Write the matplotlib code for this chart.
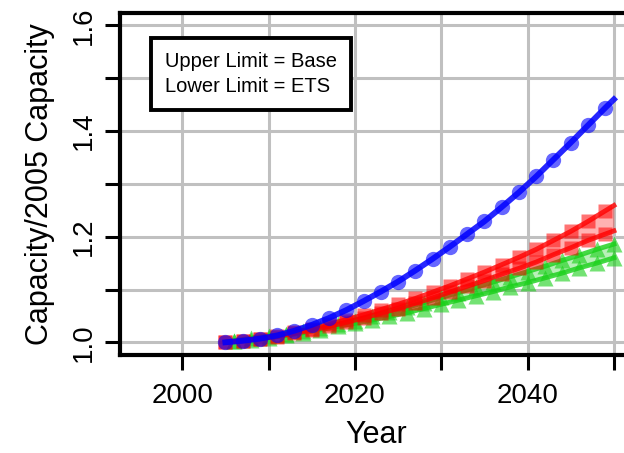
import numpy as np
import matplotlib
matplotlib.use("Agg")
import matplotlib.pyplot as plt

plt.rcParams['font.family'] = ['Liberation Sans', 'DejaVu Sans']

# odd years (plus 2050) for blue and red series
years_odd = [2005, 2007, 2009, 2011, 2013, 2015, 2017, 2019, 2021, 2023, 2025, 2027,
             2029, 2031, 2033, 2035, 2037, 2039, 2041, 2043, 2045, 2047, 2049, 2050]
blue = [1.000, 1.003, 1.007, 1.013, 1.022, 1.033, 1.046, 1.061, 1.078, 1.096, 1.115, 1.136,
        1.158, 1.181, 1.205, 1.229, 1.256, 1.284, 1.314, 1.346, 1.378, 1.411, 1.444, 1.460]
red_upper = [1.000, 1.003, 1.007, 1.012, 1.019, 1.026, 1.034, 1.043, 1.052, 1.062, 1.072, 1.083,
             1.095, 1.107, 1.120, 1.133, 1.147, 1.161, 1.176, 1.193, 1.210, 1.229, 1.249, 1.259]
red_lower = [1.000, 1.003, 1.007, 1.011, 1.017, 1.023, 1.030, 1.038, 1.046, 1.055, 1.064, 1.074,
             1.084, 1.095, 1.106, 1.117, 1.129, 1.140, 1.152, 1.166, 1.179, 1.193, 1.205, 1.211]

# 2005 plus even years for green series
years_even = [2005, 2006, 2008, 2010, 2012, 2014, 2016, 2018, 2020, 2022, 2024, 2026,
              2028, 2030, 2032, 2034, 2036, 2038, 2040, 2042, 2044, 2046, 2048, 2050]
green_upper = [1.000, 1.003, 1.008, 1.012, 1.016, 1.021, 1.027, 1.034, 1.041, 1.049, 1.057, 1.066,
               1.075, 1.085, 1.094, 1.104, 1.114, 1.124, 1.134, 1.144, 1.155, 1.165, 1.176, 1.186]
green_lower = [1.000, 1.002, 1.005, 1.009, 1.013, 1.018, 1.024, 1.030, 1.036, 1.042, 1.049, 1.056,
               1.064, 1.072, 1.080, 1.088, 1.096, 1.105, 1.113, 1.122, 1.131, 1.141, 1.150, 1.160]

x_ticks = [2000, 2010, 2020, 2030, 2040, 2050]
x_labels = ['2000', '', '2020', '', '2040', '']
y_ticks = [1.0, 1.1, 1.2, 1.3, 1.4, 1.5, 1.6]
y_labels = ['1.0', '', '1.2', '', '1.4', '', '1.6']

fig = plt.figure(figsize=(6.24, 4.53), dpi=100)
ax = fig.add_axes([0.1923, 0.2163, 0.822, 0.7556])

grid_col = '#c0c0c0'
for xt in x_ticks:
    ax.axvline(xt, color=grid_col, lw=2.2, zorder=0)
for yt in y_ticks:
    ax.axhline(yt, color=grid_col, lw=2.2, zorder=0)

green = '#18d018'

# ribbons
ax.fill_between(years_odd, red_lower, red_upper, color='red', alpha=0.3, lw=0)
ax.fill_between(years_even, green_lower, green_upper, color=green, alpha=0.3, lw=0)

# lines and markers
for yv in (green_upper, green_lower):
    ax.plot(years_even, yv, color=green, lw=3.5, alpha=0.8)
    ax.plot(years_even[1:], yv[1:], ls='none', marker='^', ms=11, color=green, alpha=0.6, mec='none')
for yv in (red_upper, red_lower):
    ax.plot(years_odd, yv, color='red', lw=3.5, alpha=0.8)
    ax.plot(years_odd[:-1], yv[:-1], ls='none', marker='s', ms=9.5, color='red', alpha=0.55, mec='none')
ax.plot(years_odd, blue, color='blue', lw=4.2, alpha=0.85)
ax.plot(years_odd[:-1], blue[:-1], ls='none', marker='o', ms=11, color='blue', alpha=0.6, mec='none')

ax.set_xlim(1992.8, 2052.2)
ax.set_ylim(0.976, 1.624)
ax.set_xticks(x_ticks)
ax.set_xticklabels(x_labels, fontsize=20)
ax.set_yticks(y_ticks)
ax.set_yticklabels(y_labels, fontsize=20, rotation=90, va='center')
ax.tick_params(direction='out', length=11, width=2.2)
ax.tick_params(axis='x', pad=9)
ax.tick_params(axis='y', pad=6)

for s in ax.spines.values():
    s.set_linewidth(3)

ax.set_xlabel('Year', fontsize=22, labelpad=8)
ax.set_ylabel('Capacity/2005 Capacity', fontsize=22, labelpad=11)

ax.text(0.0877, 0.821, 'Upper Limit = Base\nLower Limit = ETS', transform=ax.transAxes,
        fontsize=14.5, va='center', ha='left', linespacing=1.45,
        bbox=dict(boxstyle='square,pad=0.7', fc='white', ec='black', lw=2.8))

fig.savefig('out.png', dpi=100)
